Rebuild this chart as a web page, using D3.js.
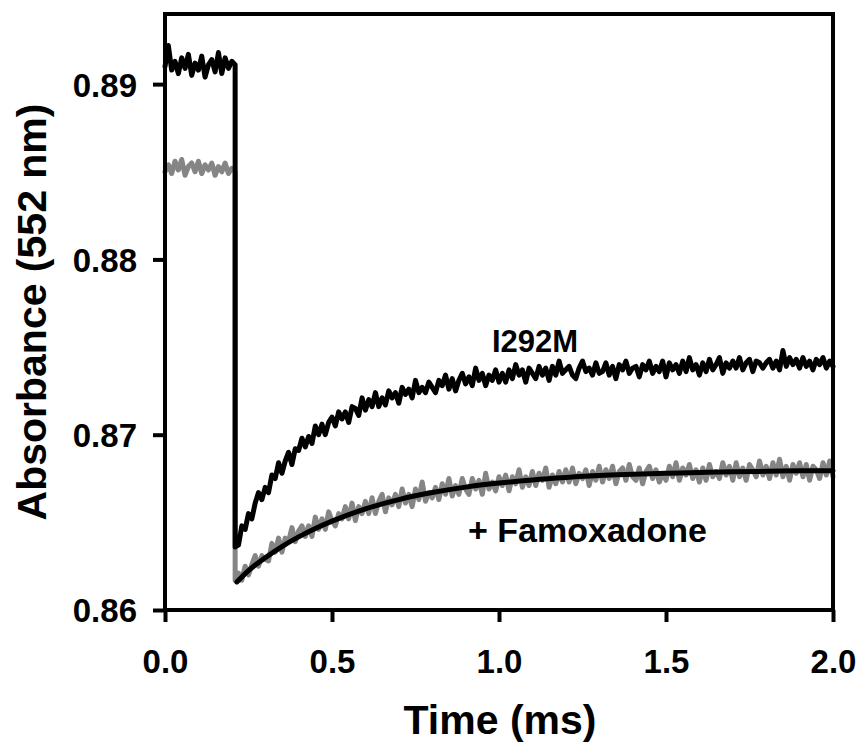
<!DOCTYPE html>
<html>
<head>
<meta charset="utf-8">
<script src="https://cdn.jsdelivr.net/npm/d3@7"></script>
<style>
  html, body { margin: 0; padding: 0; background: #fff; }
  svg { display: block; font-family: "Liberation Sans", Arial, Helvetica, sans-serif; font-weight: bold; }
</style>
</head>
<body>
<svg id="chart" width="861" height="747"></svg>
<script>
// ---------------- data ----------------
const xTicks = [0.0, 0.5, 1.0, 1.5, 2.0];
const yTicks = [0.86, 0.87, 0.88, 0.89];
const xLabel = "Time (ms)";
const yLabel = "Absorbance (552 nm)";
const labelI292M = "I292M";
const labelFamox = "+ Famoxadone";

const sampleStep = 0.01;     // ms between recorded samples
const dropTime = 0.21;       // ms, time of flash

// I292M trace, before the flash (t = 0 .. 0.21)
const blackPre = [0.8910,0.8922,0.8908,0.8913,0.8906,0.8915,0.8909,0.8917,0.8905,0.8912,0.8908,0.8916,0.8904,0.8911,0.8914,0.8907,0.8918,0.8906,0.8915,0.8909,0.8913,0.8911];
// I292M trace, after the flash (t = 0.21 .. 2.00)
const blackPost = [
 0.8636,0.8637,0.8648,0.8646,0.8655,0.8652,0.8661,0.8667,0.8663,0.8670,
 0.8667,0.8677,0.8675,0.8684,0.8678,0.8685,0.8690,0.8683,0.8692,0.8691,
 0.8698,0.8693,0.8699,0.8695,0.8705,0.8700,0.8706,0.8700,0.8707,0.8710,
 0.8705,0.8713,0.8709,0.8713,0.8707,0.8716,0.8715,0.8711,0.8721,0.8714,
 0.8720,0.8716,0.8724,0.8716,0.8721,0.8717,0.8725,0.8721,0.8724,0.8718,
 0.8727,0.8723,0.8726,0.8721,0.8731,0.8724,0.8727,0.8724,0.8730,0.8727,
 0.8724,0.8731,0.8728,0.8734,0.8726,0.8732,0.8725,0.8731,0.8735,0.8729,
 0.8733,0.8728,0.8738,0.8731,0.8735,0.8728,0.8734,0.8731,0.8737,0.8730,
 0.8735,0.8730,0.8737,0.8732,0.8740,0.8734,0.8737,0.8730,0.8738,0.8735,
 0.8732,0.8739,0.8734,0.8738,0.8731,0.8739,0.8734,0.8742,0.8735,0.8737,
 0.8739,0.8734,0.8732,0.8738,0.8742,0.8736,0.8738,0.8734,0.8741,0.8735,
 0.8736,0.8741,0.8734,0.8739,0.8732,0.8740,0.8737,0.8742,0.8735,0.8738,
 0.8739,0.8733,0.8740,0.8737,0.8742,0.8735,0.8739,0.8736,0.8742,0.8733,
 0.8741,0.8737,0.8740,0.8735,0.8742,0.8736,0.8744,0.8737,0.8740,0.8734,
 0.8741,0.8736,0.8743,0.8737,0.8740,0.8744,0.8735,0.8741,0.8738,0.8742,
 0.8738,0.8744,0.8737,0.8741,0.8743,0.8736,0.8742,0.8741,0.8738,0.8741,
 0.8743,0.8738,0.8742,0.8737,0.8748,0.8739,0.8744,0.8740,0.8743,0.8738,
 0.8744,0.8739,0.8742,0.8737,0.8743,0.8740,0.8744,0.8738,0.8742,0.8739
];

// + Famoxadone trace, before the flash (t = 0 .. 0.21)
const grayPre = [0.8850,0.8854,0.8849,0.8856,0.8851,0.8857,0.8848,0.8853,0.8855,0.8850,0.8856,0.8849,0.8854,0.8851,0.8855,0.8848,0.8853,0.8850,0.8855,0.8849,0.8852,0.8850];
// + Famoxadone trace, after the flash (t = 0.21 .. 2.00)
const grayPost = [
 0.8617,0.8621,0.8617,0.8625,0.8620,0.8626,0.8631,0.8625,0.8631,0.8629,
 0.8628,0.8638,0.8633,0.8641,0.8633,0.8641,0.8639,0.8647,0.8639,0.8645,
 0.8648,0.8642,0.8648,0.8642,0.8653,0.8646,0.8652,0.8646,0.8656,0.8651,
 0.8648,0.8655,0.8652,0.8659,0.8652,0.8661,0.8651,0.8659,0.8655,0.8662,
 0.8655,0.8664,0.8655,0.8662,0.8666,0.8656,0.8664,0.8660,0.8666,0.8659,
 0.8669,0.8661,0.8666,0.8659,0.8669,0.8663,0.8673,0.8662,0.8667,0.8664,
 0.8670,0.8663,0.8672,0.8666,0.8675,0.8665,0.8671,0.8666,0.8675,0.8669,
 0.8666,0.8675,0.8669,0.8674,0.8666,0.8678,0.8669,0.8673,0.8668,0.8676,
 0.8671,0.8677,0.8668,0.8676,0.8672,0.8680,0.8670,0.8676,0.8671,0.8679,
 0.8671,0.8678,0.8674,0.8681,0.8670,0.8677,0.8672,0.8679,0.8673,0.8680,
 0.8673,0.8681,0.8672,0.8678,0.8675,0.8680,0.8671,0.8679,0.8674,0.8682,
 0.8673,0.8680,0.8675,0.8682,0.8672,0.8679,0.8681,0.8674,0.8683,0.8676,
 0.8674,0.8681,0.8672,0.8679,0.8682,0.8675,0.8680,0.8673,0.8678,0.8674,
 0.8682,0.8676,0.8684,0.8674,0.8681,0.8677,0.8683,0.8675,0.8680,0.8673,
 0.8681,0.8674,0.8683,0.8676,0.8679,0.8675,0.8684,0.8677,0.8682,0.8674,
 0.8684,0.8676,0.8681,0.8674,0.8683,0.8680,0.8676,0.8685,0.8677,0.8682,
 0.8675,0.8684,0.8677,0.8686,0.8676,0.8682,0.8674,0.8683,0.8678,0.8684,
 0.8676,0.8683,0.8674,0.8682,0.8680,0.8675,0.8684,0.8677,0.8685,0.8676
];

// fitted curve drawn over the + Famoxadone trace
const fitTime  = [0.215,0.25,0.30,0.35,0.40,0.45,0.50,0.60,0.70,0.80,0.90,1.00,1.10,1.20,1.30,1.40,1.50,1.60,1.70,1.80,1.90,2.00];
const fitValue = [0.8616,0.86225,0.86298,0.86362,0.86417,0.86465,0.86507,0.86577,0.8663,0.8667,0.86701,0.86724,0.86742,0.86756,0.86767,0.86774,0.8678,0.86785,0.86789,0.86791,0.86794,0.86795];

// ---------------- drawing ----------------
const svg = d3.select("#chart");
const L = 165, R = 833, T = 14, B = 610;

const x = d3.scaleLinear().domain([0, 2.0]).range([L, R]);
const y = d3.scaleLinear().domain([0.86, 0.894]).range([B, T]);

function trace(pre, post) {
  const pts = pre.map((v, i) => [i * sampleStep, v]);
  post.forEach((v, i) => pts.push([dropTime + i * sampleStep, v]));
  return pts;
}

const line = d3.line().x(d => x(d[0])).y(d => y(d[1]));

const plot = svg.append("g");

plot.append("path")
  .datum(trace(grayPre, grayPost))
  .attr("d", line)
  .attr("fill", "none")
  .attr("stroke", "#858585")
  .attr("stroke-width", 5)
  .attr("stroke-linejoin", "round")
  .attr("stroke-linecap", "round");

plot.append("path")
  .datum(fitTime.map((t, i) => [t, fitValue[i]]))
  .attr("d", d3.line().x(d => x(d[0])).y(d => y(d[1])).curve(d3.curveMonotoneX))
  .attr("fill", "none")
  .attr("stroke", "#000")
  .attr("stroke-width", 5)
  .attr("stroke-linecap", "round");

plot.append("path")
  .datum(trace(blackPre, blackPost))
  .attr("d", line)
  .attr("fill", "none")
  .attr("stroke", "#000")
  .attr("stroke-width", 5)
  .attr("stroke-linejoin", "round")
  .attr("stroke-linecap", "round");

// frame
svg.append("rect")
  .attr("x", L).attr("y", T)
  .attr("width", R - L).attr("height", B - T)
  .attr("fill", "none").attr("stroke", "#000").attr("stroke-width", 4);

// y axis
const yAxis = svg.append("g")
  .attr("transform", `translate(${L},0)`)
  .call(d3.axisLeft(y).tickValues(yTicks).tickFormat(d3.format(".2f")).tickSize(12).tickPadding(16));
yAxis.select(".domain").remove();
yAxis.selectAll(".tick line").attr("stroke", "#000").attr("stroke-width", 4);
yAxis.selectAll(".tick text")
  .attr("fill", "#000")
  .style("font-size", "33px").style("font-weight", "bold")
  .style("font-family", '"Liberation Sans", Arial, sans-serif')
  .attr("dy", "0.36em");

// x axis
const xAxis = svg.append("g")
  .attr("transform", `translate(0,${B})`)
  .call(d3.axisBottom(x).tickValues(xTicks).tickFormat(d3.format(".1f")).tickSize(12).tickPadding(16));
xAxis.select(".domain").remove();
xAxis.selectAll(".tick line").attr("stroke", "#000").attr("stroke-width", 4);
xAxis.selectAll(".tick text")
  .attr("fill", "#000")
  .style("font-size", "33px").style("font-weight", "bold")
  .style("font-family", '"Liberation Sans", Arial, sans-serif')
  .attr("y", 63).attr("dy", 0);

// axis titles
svg.append("text")
  .attr("x", 500).attr("y", 734)
  .attr("text-anchor", "middle")
  .style("font-size", "41px")
  .text(xLabel);

svg.append("text")
  .attr("transform", "translate(46,312) rotate(-90)")
  .attr("text-anchor", "middle")
  .style("font-size", "41px")
  .text(yLabel);

// series labels
svg.append("text")
  .attr("x", 492).attr("y", 352)
  .style("font-size", "31px")
  .text(labelI292M);

svg.append("text")
  .attr("x", 468).attr("y", 542)
  .style("font-size", "34px")
  .text(labelFamox);
</script>
</body>
</html>
